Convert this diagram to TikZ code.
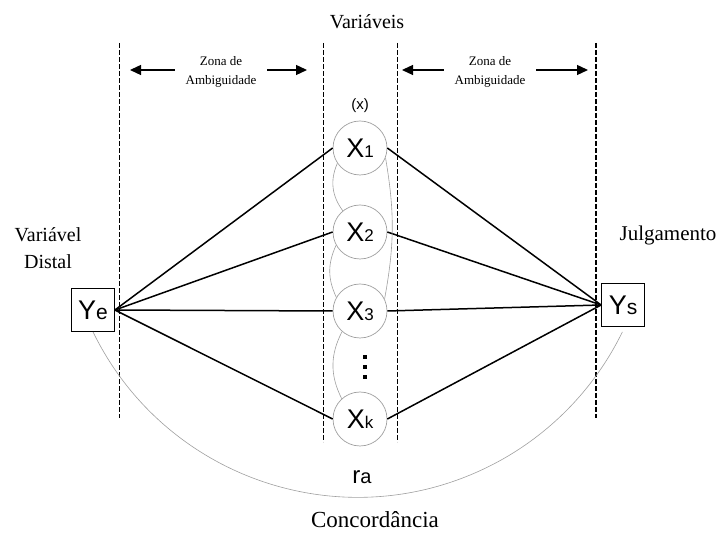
\documentclass[tikz,border=0pt]{standalone}
\usepackage{fontspec}
\setmainfont{Liberation Serif}
\newfontfamily\arialfont{Liberation Sans}
\usetikzlibrary{arrows.meta}
\newcommand{\idx}[1]{{\fontsize{17}{17}\selectfont #1}}
\newcommand{\idxl}[1]{{\fontsize{21}{21}\selectfont #1}}
\begin{document}
\begin{tikzpicture}[x=1pt,y=1pt,
    var/.style={circle,draw=gray!75,line width=0.7pt,minimum size=54pt,inner sep=0pt,
      font=\arialfont\fontsize{27}{27}\selectfont},
    caixa/.style={draw,line width=0.8pt,minimum width=43pt,minimum height=43pt,inner sep=0pt,
      font=\arialfont\fontsize{27}{27}\selectfont},
    amb/.style={align=center,inner sep=0pt,outer xsep=11pt,font=\fontsize{13}{19}\selectfont},
    seta/.style={-{Triangle[length=11pt,width=10pt]},line width=1.3pt},
    liga/.style={line width=1.5pt},
    elo/.style={gray!75,line width=0.6pt}]
  \useasboundingbox (0,0) rectangle (717,535);
  \foreach \x/\b/\w in {119/117/0.8,323/93/0.8,397/93/0.8,596/117/1.4}
    \draw[dash pattern=on 5pt off 2pt,line width=\w pt] (\x,492) -- (\x,\b);
  \node[font=\fontsize{20}{20}\selectfont] (titulo) at (367,513) {Variáveis};
  \node[amb] (amb1) at (221,463) {Zona de\\Ambiguidade};
  \node[amb] (amb2) at (490,463) {Zona de\\Ambiguidade};
  \coordinate (t1) at (130,465);
  \coordinate (t2) at (307,465);
  \coordinate (t3) at (402,465);
  \coordinate (t4) at (588,465);
  \draw[seta] (amb1.west |- t1) -- (t1);
  \draw[seta] (amb1.east |- t2) -- (t2);
  \draw[seta] (amb2.west |- t3) -- (t3);
  \draw[seta] (amb2.east |- t4) -- (t4);
  \node[font=\arialfont\fontsize{15}{15}\selectfont] (xlbl) at (360,429) {(x)};
  \foreach \n/\y/\s in {x1/387/1,x2/303/2,x3/224/3,xk/116/k}
    \node[var] (\n) at (360,\y) {X\idx{\s}};
  \foreach \d in {180,170,160}
    \fill (363,\d) rectangle ++(4,-4);
  \node[caixa] (ye) at (93,225) {Y\idxl{e}};
  \node[caixa] (ys) at (623,230) {Y\idxl{s}};
  \foreach \n in {x1,x2,x3,xk} {
    \draw[liga] (ye.east) -- (\n.west);
    \draw[liga] (\n.east) -- (ys.west);
  }
  \draw[elo] (x1.214) to[bend right=30] (x2.129);
  \draw[elo] (x2.209) to[bend right=25] (x3.150);
  \draw[elo] (x3.229) to[bend right=27] (xk.132);
  \draw[elo] (x1.-21) to[bend left=10] (x3.26);
  \draw[elo] (ye.south) arc[start angle=206,end angle=334,radius=294.5];
  \node[font=\arialfont] (ra) at (362,58) {{\fontsize{24}{24}\selectfont r}{\fontsize{20}{20}\selectfont a}};
  \node[font=\fontsize{23}{23}\selectfont] (conc) at (375,15) {Concordância};
  \node[align=center,font=\fontsize{20}{27}\selectfont] (distal) at (48,287) {Variável\\Distal};
  \node[font=\fontsize{21}{21}\selectfont] (julg) at (668,300) {Julgamento};
\end{tikzpicture}
\end{document}
